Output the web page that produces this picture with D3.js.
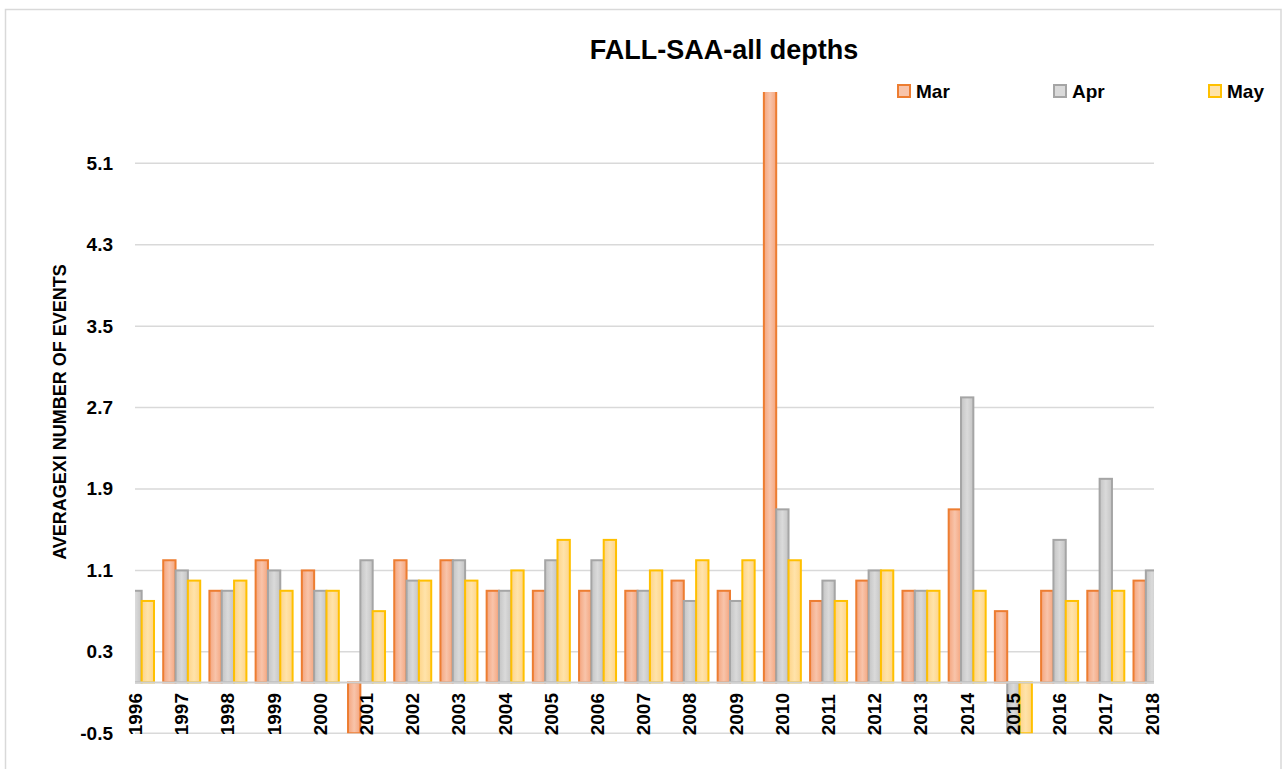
<!DOCTYPE html>
<html>
<head>
<meta charset="utf-8">
<script src="https://cdn.jsdelivr.net/npm/d3@7"></script>
<style>
  html, body { margin: 0; padding: 0; background: #fff; }
  svg { display: block; }
  text { font-family: "Liberation Sans", Arial, sans-serif; font-weight: bold; fill: #000; }
</style>
</head>
<body>
<svg id="chart" width="1285" height="769"></svg>
<script>
const years = ["1996","1997","1998","1999","2000","2001","2002","2003","2004","2005","2006","2007","2008","2009","2010","2011","2012","2013","2014","2015","2016","2017","2018"];
const months = ["Mar","Apr","May"];
const marValues = [0.9,1.2,0.9,1.2,1.1,-0.5,1.2,1.2,0.9,0.9,0.9,0.9,1.0,0.9,5.9,0.8,1.0,0.9,1.7,0.7,0.9,0.9,1.0];
const aprValues = [0.9,1.1,0.9,1.1,0.9,1.2,1.0,1.2,0.9,1.2,1.2,0.9,0.8,0.8,1.7,1.0,1.1,0.9,2.8,-0.5,1.4,2.0,1.1];
const mayValues = [0.8,1.0,1.0,0.9,0.9,0.7,1.0,1.0,1.1,1.4,1.4,1.1,1.2,1.2,1.2,0.8,1.1,0.9,0.9,-0.5,0.8,0.9,1.0];
const yTicks = [-0.5,0.3,1.1,1.9,2.7,3.5,4.3,5.1];
const title = "FALL-SAA-all depths";
const yTitle = "AVERAGEXI NUMBER OF EVENTS";

const seriesValues = {Mar: marValues, Apr: aprValues, May: mayValues};
const colors = {
  Mar: {stroke: "#ed7d31", edge: "#f4a57e", mid: "#f8c4aa"},
  Apr: {stroke: "#a5a5a5", edge: "#c4c4c4", mid: "#dadada"},
  May: {stroke: "#ffc000", edge: "#fdd489", mid: "#ffe3aa"}
};

const svg = d3.select("#chart");
const plotL = 135, plotR = 1154, plotT = 92, plotB = 733.3;

// outer frame
svg.append("rect").attr("x", 5.5).attr("y", 9.5).attr("width", 1275.5).attr("height", 770)
  .attr("fill", "none").attr("stroke", "#d9d9d9").attr("stroke-width", 1.5);

const x0 = d3.scalePoint().domain(years).range([135.5, 1152]);
const groupW = 37;
const x1 = d3.scaleBand().domain(months).range([-groupW / 2, groupW / 2]);
const y = d3.scaleLinear().domain([-0.5, 5.8]).range([plotB, plotT]);

const defs = svg.append("defs");
months.forEach(m => {
  const g = defs.append("linearGradient").attr("id", "grad-" + m)
    .attr("x1", "0%").attr("x2", "100%").attr("y1", "0%").attr("y2", "0%");
  g.append("stop").attr("offset", "0%").attr("stop-color", colors[m].edge);
  g.append("stop").attr("offset", "50%").attr("stop-color", colors[m].mid);
  g.append("stop").attr("offset", "100%").attr("stop-color", colors[m].edge);
});
defs.append("clipPath").attr("id", "plotclip").append("rect")
  .attr("x", plotL).attr("y", plotT).attr("width", plotR - plotL).attr("height", plotB - plotT);

// gridlines
svg.append("g").selectAll("line").data(yTicks).join("line")
  .attr("x1", plotL).attr("x2", plotR)
  .attr("y1", d => y(d)).attr("y2", d => y(d))
  .attr("stroke", "#d9d9d9").attr("stroke-width", 1.5);

// y tick labels
svg.append("g").selectAll("text").data(yTicks).join("text")
  .attr("x", 113).attr("y", d => y(d))
  .attr("text-anchor", "end").attr("dominant-baseline", "central")
  .attr("font-size", 19)
  .text(d => d.toFixed(1));

// bars
const data = [];
years.forEach((yr, i) => months.forEach(m => data.push({year: yr, month: m, value: seriesValues[m][i]})));
const barsG = svg.append("g").attr("clip-path", "url(#plotclip)");
barsG.selectAll("rect").data(data).join("rect")
  .attr("x", d => x0(d.year) + x1(d.month))
  .attr("width", x1.bandwidth())
  .attr("y", d => Math.min(y(d.value), y(0)))
  .attr("height", d => Math.abs(y(d.value) - y(0)))
  .attr("fill", d => "url(#grad-" + d.month + ")")
  .attr("stroke", d => colors[d.month].stroke)
  .attr("stroke-width", 2);

// baseline (value 0)
svg.append("line").attr("x1", plotL).attr("x2", plotR)
  .attr("y1", y(0)).attr("y2", y(0))
  .attr("stroke", "#d0d0d0").attr("stroke-width", 2);

// x labels (rotated)
svg.append("g").selectAll("text").data(years).join("text")
  .attr("transform", d => `translate(${x0(d)},${y(-0.5) + 2}) rotate(-90)`)
  .attr("text-anchor", "start").attr("dominant-baseline", "central")
  .attr("font-size", 19)
  .text(d => d);

// title
svg.append("text").attr("x", 724).attr("y", 59).attr("text-anchor", "middle")
  .attr("font-size", 27).text(title);

// y-axis title
svg.append("text").attr("transform", "translate(60,412) rotate(-90)")
  .attr("text-anchor", "middle").attr("dominant-baseline", "central")
  .attr("font-size", 18).text(yTitle);

// legend
const legendX = [897, 1053, 1208];
const lg = svg.append("g").selectAll("g").data(months).join("g")
  .attr("transform", (d, i) => `translate(${legendX[i]},84)`);
lg.append("rect").attr("x", 1).attr("y", 1).attr("width", 12).attr("height", 12)
  .attr("fill", d => colors[d].mid).attr("stroke", d => colors[d].stroke).attr("stroke-width", 2);
lg.append("text").attr("x", 19).attr("y", 13.5).attr("font-size", 19).text(d => d);
</script>
</body>
</html>
